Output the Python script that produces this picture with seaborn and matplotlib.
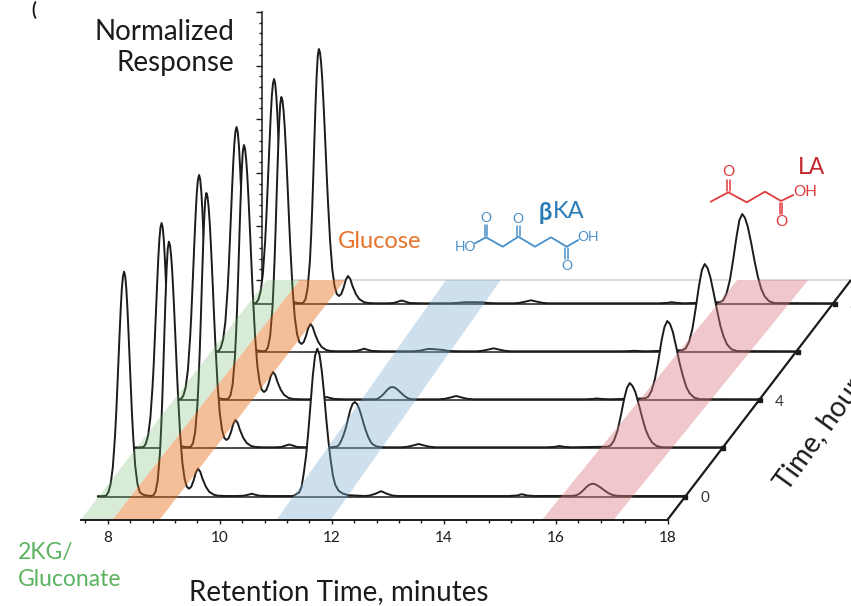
import matplotlib
matplotlib.use("Agg")
import matplotlib.pyplot as plt
from matplotlib.transforms import Affine2D
import numpy as np
import pandas as pd
import seaborn as sns

sns.set_theme(style="white")
plt.rcParams["font.family"] = ["Lato", "DejaVu Sans"]

# Shared retention-time grid (minutes) and the 2KG / Gluconate / Glucose region
rt_front = [7.51, 7.60, 7.66, 7.70, 7.74, 7.78, 7.82, 7.84, 7.86, 7.88, 7.90, 7.92, 7.94, 7.96, 7.98, 8.00, 8.02, 8.04,
            8.06, 8.08, 8.10, 8.12, 8.14, 8.18, 8.22, 8.26, 8.32, 8.40, 8.46, 8.50, 8.54, 8.58, 8.62, 8.64, 8.66, 8.68,
            8.70, 8.72, 8.74, 8.76, 8.78, 8.80, 8.82, 8.84, 8.86, 8.88, 8.90, 8.92, 8.94, 8.98, 9.02, 9.06, 9.10, 9.14,
            9.18, 9.22, 9.26, 9.30, 9.34, 9.38, 9.44, 9.50, 9.58, 9.66, 9.80]
resp_front = [0.5, 0.6, 1, 4.5, 12.6, 30, 62.5, 84, 110, 136.5, 163, 188, 208, 220.5, 225, 220.5, 208, 188,
              163, 136.5, 110, 84, 62.5, 30, 12.6, 4.5, 2, 1, 0.8, 1.2, 4.6, 16, 43, 66, 94, 127.5,
              164, 199, 228, 248, 255, 251.5, 241, 225, 204, 180, 155, 129, 105, 63.5, 34.5, 18, 10, 8,
              10, 16, 24, 28, 25, 18, 10, 5, 2, 1, 0.7]

rt_b1 = [10.00, 10.12, 10.20, 10.26, 10.32, 10.40, 10.60, 11.00]
b1 = [[0.7, 1, 2, 3, 2, 1, 0.7, 0.7],
      [0.7, 1, 2.5, 3.5, 2.5, 1, 0.7, 0.7],
      [0.7, 1, 2, 3, 2, 1, 0.7, 0.7],
      [0.7, 1, 2.2, 3.3, 2.2, 1, 0.7, 0.7],
      [0.7, 1, 2.5, 3.5, 2.5, 1, 0.7, 0.7]]

rt_bka = [11.11, 11.15, 11.19, 11.23, 11.27, 11.31, 11.35, 11.39, 11.43, 11.47, 11.51, 11.55, 11.59, 11.63,
          11.67, 11.71, 11.75, 11.81, 11.89, 11.99]
bka = [[4.4, 10, 24, 41, 65, 93, 121, 141, 148, 142, 126, 104, 78, 55, 36, 21, 12, 6, 3, 1.5],
       [1.4, 3.2, 7.4, 13, 20, 29, 38, 44, 46, 44, 39, 32, 24, 17, 11, 6.5, 3.7, 1.8, 0.9, 0.7],
       [0.7, 0.9, 2, 3.6, 5.7, 8.2, 10.7, 12.4, 13, 12.5, 11, 9, 7, 4.8, 3.1, 1.8, 1, 0.7, 0.7, 0.7],
       [0.7, 0.8, 1, 1.2, 1.5, 2, 2.5, 3, 3, 3, 2.8, 2.6, 2.4, 2.2, 2, 1.6, 1.2, 1, 0.8, 0.7],
       [0.7, 0.8, 0.9, 1, 1.2, 1.4, 1.6, 1.7, 1.8, 1.8, 1.8, 1.8, 1.7, 1.7, 1.7, 1.6, 1.3, 1, 0.8, 0.7]]

rt_b2 = [12.27, 12.37, 12.47, 12.57, 12.67, 12.77, 12.87]
b2 = [[0.7, 1.2, 3, 5.5, 3, 1.2, 0.7],
      [0.7, 1.2, 2.5, 4, 2.5, 1.2, 0.7],
      [0.7, 1.2, 2.5, 4, 2.5, 1.2, 0.7],
      [0.7, 1.2, 2.4, 3.7, 2.4, 1.2, 0.7],
      [0.7, 1.2, 2.4, 3.7, 2.4, 1.2, 0.7]]

rt_b3 = [14.85, 15.00, 15.08, 15.18, 15.30]
b3 = [[0.7, 1.2, 2.5, 1.2, 0.7],
      [0.7, 1.1, 2, 1.1, 0.7],
      [0.7, 1, 1.5, 1, 0.7],
      [0.7, 0.9, 1.2, 0.9, 0.7],
      [0.7, 1.1, 1.8, 1.1, 0.7]]

rt_la = [15.94, 16.00, 16.06, 16.12, 16.18, 16.24, 16.29, 16.34, 16.39, 16.44, 16.50, 16.56, 16.62, 16.68,
         16.74, 16.82, 16.92, 17.96]
la = [[0.8, 0.9, 1.5, 3.4, 6.4, 9.9, 12, 13, 12.5, 11, 8.8, 6.2, 3.9, 2.2, 1.2, 0.8, 0.7, 0.7],
      [1.3, 2.6, 7.6, 17, 32, 49, 60, 65, 62, 56, 44, 31, 19, 11, 5.5, 2, 0.7, 0.7],
      [1.6, 3.2, 9.2, 21, 39, 60, 73, 79, 76, 68, 53, 37, 24, 13, 6.7, 2.4, 0.8, 0.7],
      [1.8, 3.5, 10, 23, 44, 67, 82, 88, 84, 75, 59, 42, 26, 15, 7.5, 2.6, 0.9, 0.7],
      [1.8, 3.6, 10.5, 24, 45, 68, 84, 90, 86, 77, 61, 43, 27, 15, 7.7, 2.7, 0.9, 0.7]]

# Depth of each trace on the slanted time plane
trace_base = [22.8, 71.5, 119.5, 167.5, 215.5]
trace_shift = [0.3125, 0.982, 1.652, 2.321, 2.991]
plane_depth = 239.5
plane_shift = 3.273

# Highlighted bands: front-left, front-right, back-left, back-right in retention time
band_names = ["2KG", "Glucose", "bKA", "LA"]
band_edges = [[7.52, 8.09, 10.84, 11.43], [8.09, 8.93, 11.43, 12.24], [11.02, 11.99, 14.04, 15.02], [15.76, 17.04, 19.24, 20.51]]
band_colors = ["#73b96c", "#e56f1c", "#7fb0d3", "#dc7e84"]
band_alpha = [0.28, 0.45, 0.38, 0.42]

rt_ticks = [8, 10, 12, 14, 16, 18]

fig = plt.figure(figsize=(8.51, 6.06), dpi=100)
ax = fig.add_axes([0, 0, 1, 1])
ax.set_xlim(8 - 107.7 / 56, 8 + (851 - 107.7) / 56)
ax.set_ylim(-86.5, 519.5)
ax.patch.set_alpha(0)

px = Affine2D().scale(1 / 851, -1 / 606).translate(0, 1) + fig.transFigure

ink = "#1b1b1b"
ax.plot([10.75, 10.75 + plane_shift + 7.25], [plane_depth, plane_depth], color="#d9d9d9", lw=1.3, zorder=1)

rt_all = rt_front + rt_b1 + rt_bka + rt_b2 + rt_b3 + rt_la
for k in reversed(range(5)):
    resp = resp_front + b1[k] + bka[k] + b2[k] + b3[k] + la[k]
    df = pd.DataFrame({"rt": np.array(rt_all) + trace_shift[k], "y": np.array(resp) + trace_base[k]})
    z = 10 + (4 - k) * 3
    ax.fill_between(df["rt"], trace_base[k], df["y"], color="white", lw=0, zorder=z)
    ax.plot([rt_all[0] + trace_shift[k], 18 + trace_shift[k]], [trace_base[k]] * 2, color=ink, lw=1.1, zorder=z + 1)
    sns.lineplot(data=df, x="rt", y="y", ax=ax, sort=False, estimator=None, errorbar=None,
                 color=ink, lw=1.4, zorder=z + 2, legend=False)
    ax.plot([18 + trace_shift[k]], [trace_base[k]], marker="s", ms=2.2, color=ink, zorder=60)

for edges, c, a in zip(band_edges, band_colors, band_alpha):
    ax.fill([edges[0], edges[1], edges[3], edges[2]], [0, 0, plane_depth, plane_depth],
            color=c, alpha=a, lw=0, zorder=40)

# Axes
ax.plot([18, 18 + plane_shift], [0, plane_depth], color=ink, lw=1.6, zorder=60, solid_capstyle="butt")
for s in ["top", "right"]:
    ax.spines[s].set_visible(False)
ax.spines["bottom"].set_position(("data", 0))
ax.spines["bottom"].set_bounds(7.52, 18)
ax.spines["bottom"].set_linewidth(1.4)
ax.spines["bottom"].set_color(ink)
ax.spines["bottom"].set_zorder(60)
ax.spines["left"].set_position(("data", 10.75))
ax.spines["left"].set_bounds(plane_depth, plane_depth + 268)
ax.spines["left"].set_linewidth(1.1)
ax.spines["left"].set_color(ink)

ax.set_xticks(rt_ticks)
ax.set_xticks(np.arange(7.6, 18.01, 0.4), minor=True)
ax.set_xticklabels([str(t) for t in rt_ticks])
ax.tick_params(axis="x", which="major", direction="out", length=3.2, width=1, pad=5, labelsize=11, colors=ink, bottom=True)
ax.tick_params(axis="x", which="minor", direction="out", length=2, width=1, colors=ink, bottom=True)
ax.set_yticks(plane_depth + 53.6 * np.arange(6))
ax.set_yticks(plane_depth + 10.72 * np.arange(26), minor=True)
ax.set_yticklabels([])
ax.tick_params(axis="y", which="major", direction="out", length=4.5, width=1, colors=ink, left=True)
ax.tick_params(axis="y", which="minor", direction="out", length=2.2, width=1, colors=ink, left=True)
ax.set_xlabel("")
ax.set_ylabel("")

# Text
def label(x, y, s, size, color=ink, ha="center", va="center", **kw):
    ax.text(x, y, s, transform=px, fontsize=size, color=color, ha=ha, va=va, **kw)

label(234, 32, "Normalized", 20, ha="right")
label(234, 63, "Response", 20, ha="right")
label(339, 592, "Retention Time, minutes", 20)
label(380, 241, "Glucose", 17, color="#e8742c")
label(18, 552, "2KG/", 16.5, color="#5cb35f", ha="left")
label(18, 579, "Gluconate", 16.5, color="#5cb35f", ha="left")
label(539, 212, "β", 17, color="#2a7ab5", ha="left", fontweight="bold")
label(553, 212, "KA", 17, color="#2a7ab5", ha="left")
label(798, 168, "LA", 16.5, color="#c4262e", ha="left")
label(705, 498, "0", 11, color="#333333")
label(779, 402, "4", 11, color="#333333")
label(854, 306, "8", 11, color="#555555")
label(34, 10, "(", 13, ha="center", fontweight="bold")
ax.text(787, 492, "Time, hours", transform=px, fontsize=20, color=ink, rotation=54,
        rotation_mode="anchor", ha="left", va="baseline")

# Structures
bka_color = "#4a90c8"
la_color = "#df3b3d"
bka_x = [475, 486, 502.7, 518.3, 535, 551, 566.7, 578.3]
bka_y = [243.3, 237.3, 246.7, 236.7, 246.7, 237.3, 246.7, 240]
la_x = [710.7, 728.3, 746.7, 765, 781, 793.3]
la_y = [201.7, 192.3, 202.3, 191.7, 201, 195]
bka_doubles = [(486, 236, 225), (518.3, 235.7, 226), (566.7, 248, 259)]
la_doubles = [(728.3, 191, 180), (781, 203, 214)]
for xs, ys, dbl, col in [(bka_x, bka_y, bka_doubles, bka_color), (la_x, la_y, la_doubles, la_color)]:
    ax.plot(xs, ys, transform=px, color=col, lw=1.3, zorder=5)
    for x0, y0, y1 in dbl:
        ax.plot([x0 - 1.4, x0 - 1.4], [y0, y1], transform=px, color=col, lw=1.1, zorder=5)
        ax.plot([x0 + 1.4, x0 + 1.4], [y0, y1], transform=px, color=col, lw=1.1, zorder=5)
for x, y, s in [(465, 246.7, "HO"), (588.3, 236.7, "OH"), (486, 218.3, "O"), (518.3, 219, "O"), (566.7, 266, "O")]:
    label(x, y, s, 10, color=bka_color)
for x, y, s in [(805, 192.3, "OH"), (728.3, 171.7, "O"), (781, 222.3, "O")]:
    label(x, y, s, 11, color=la_color)

fig.savefig("out.png", dpi=100)
